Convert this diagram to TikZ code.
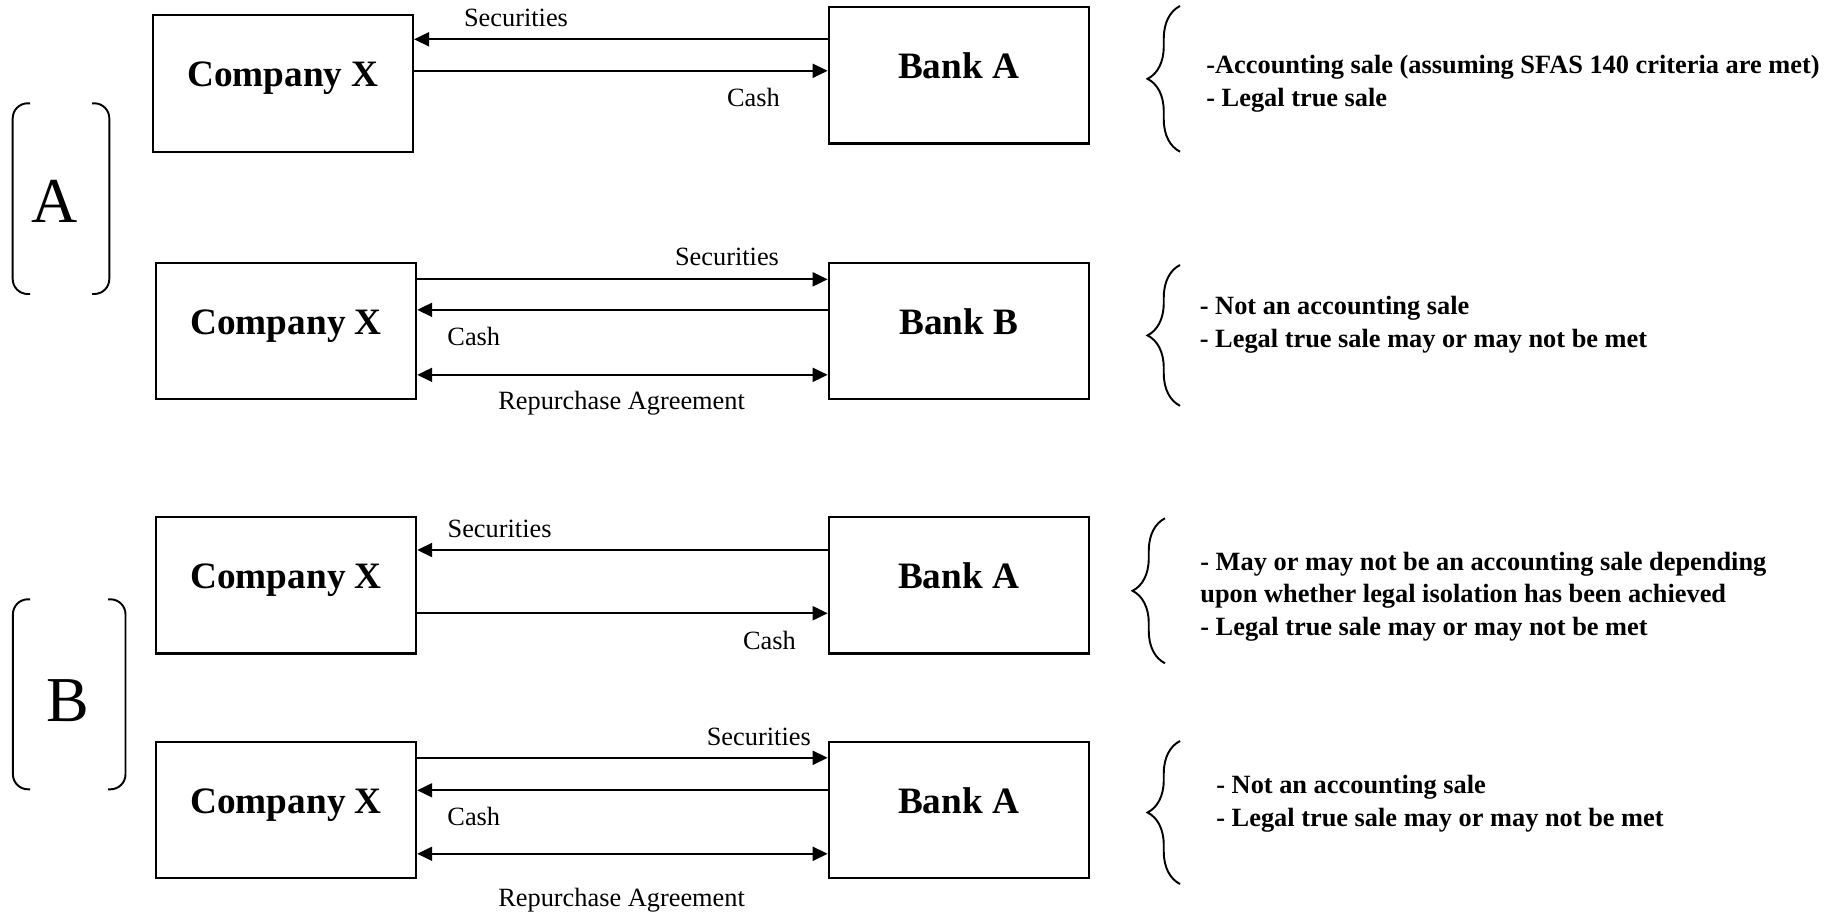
\documentclass[tikz,border=0pt]{standalone}
\usepackage{fontspec}
\setmainfont{Liberation Serif}
\usetikzlibrary{arrows.meta,decorations.pathreplacing}
\tikzset{
  party/.style={draw=black, line width=1.2pt, minimum width=5.2cm, minimum height=2.73cm, text height=0.5cm, text depth=0.37cm, inner sep=0pt, font=\fontsize{21.2}{25}\selectfont\bfseries},
  flowlabel/.style={inner sep=0pt, font=\fontsize{15}{18}\selectfont},
  note/.style={anchor=west, align=left, inner sep=0pt, font=\fontsize{15}{18.6}\selectfont\bfseries},
  caselabel/.style={inner sep=0pt, font=\fontsize{36.4}{40}\selectfont},
  flow/.style={-{Triangle[length=3mm, width=2.8mm]}, line width=1.1pt},
  twoway/.style={{Triangle[length=3mm, width=2.8mm]}-{Triangle[length=3mm, width=2.8mm]}, line width=1.1pt},
  grouping/.style={decorate, decoration={brace, amplitude=6.5mm}, line width=1.1pt},
  casebracket/.style={line width=1.1pt, rounded corners=3mm}
}
\begin{document}
\begin{tikzpicture}
  \useasboundingbox (0,0) rectangle (36.78,18.26);
  \node[party] (co1) at (5.66,16.587) {Company X};
  \node[party] (bk1) at (19.174,16.754) {Bank A};
  \node[party] (co2) at (5.723,11.643) {Company X};
  \node[party] (bk2) at (19.174,11.643) {Bank B};
  \node[party] (co3) at (5.723,6.555) {Company X};
  \node[party] (bk3) at (19.174,6.555) {Bank A};
  \node[party] (co4) at (5.723,2.064) {Company X};
  \node[party] (bk4) at (19.174,2.064) {Bank A};

  \draw[flow] ([yshift=7.2mm]bk1.west) -- ([yshift=7.2mm]bk1.west -| co1.east);
  \draw[flow] ([yshift=0.9mm]bk1.west -| co1.east) -- ([yshift=0.9mm]bk1.west);
  \node[flowlabel] (sec1) at (10.32,17.908) {Securities};
  \node[flowlabel] (cash1) at (15.07,16.314) {Cash};

  \draw[flow] ([yshift=10.3mm]co2.east) -- ([yshift=10.3mm]bk2.west);
  \draw[flow] ([yshift=4.2mm]bk2.west) -- ([yshift=4.2mm]co2.east);
  \draw[twoway] ([yshift=-8.8mm]co2.east) -- ([yshift=-8.8mm]bk2.west);
  \node[flowlabel] (sec2) at (14.54,13.124) {Securities};
  \node[flowlabel] (cash2) at (9.476,11.528) {Cash};
  \node[flowlabel] (repo2) at (12.432,10.2) {Repurchase Agreement};

  \draw[flow] ([yshift=7.05mm]bk3.west) -- ([yshift=7.05mm]co3.east);
  \draw[flow] ([yshift=-5.6mm]co3.east) -- ([yshift=-5.6mm]bk3.west);
  \node[flowlabel] (sec3) at (9.992,7.68) {Securities};
  \node[flowlabel] (cash3) at (15.388,5.454) {Cash};

  \draw[flow] ([yshift=10.4mm]co4.east) -- ([yshift=10.4mm]bk4.west);
  \draw[flow] ([yshift=3.9mm]bk4.west) -- ([yshift=3.9mm]co4.east);
  \draw[twoway] ([yshift=-8.8mm]co4.east) -- ([yshift=-8.8mm]bk4.west);
  \node[flowlabel] (sec4) at (15.176,3.53) {Securities};
  \node[flowlabel] (cash4) at (9.476,1.934) {Cash};
  \node[flowlabel] (repo4) at (12.432,0.26) {Repurchase Agreement};

  \draw[grouping] (23.6,15.226) -- (23.6,18.14);
  \draw[grouping] (23.6,10.144) -- (23.6,12.96);
  \draw[grouping] (23.3,4.994) -- (23.3,7.894);
  \draw[grouping] (23.6,0.58) -- (23.6,3.44);
  \node[note] (note1) at (24.12,16.58) {-Accounting sale (assuming SFAS 140 criteria are met)\\- Legal true sale};
  \node[note] (note2) at (23.99,11.77) {- Not an accounting sale\\- Legal true sale may or may not be met};
  \node[note] (note3) at (24.0,6.33) {- May or may not be an accounting sale depending\\upon whether legal isolation has been achieved\\- Legal true sale may or may not be met};
  \node[note] (note4) at (24.32,2.18) {- Not an accounting sale\\- Legal true sale may or may not be met};

  \draw[casebracket] (0.6,16.194) -- (0.254,16.194) -- (0.254,12.38) -- (0.6,12.38);
  \draw[casebracket] (1.84,16.194) -- (2.186,16.194) -- (2.186,12.38) -- (1.84,12.38);
  \node[caselabel] (caseA) at (1.1,14.24) {A};
  \draw[casebracket] (0.604,6.274) -- (0.258,6.274) -- (0.258,2.474) -- (0.604,2.474);
  \draw[casebracket] (2.164,6.274) -- (2.51,6.274) -- (2.51,2.474) -- (2.164,2.474);
  \node[caselabel] (caseB) at (1.36,4.256) {B};
\end{tikzpicture}
\end{document}
